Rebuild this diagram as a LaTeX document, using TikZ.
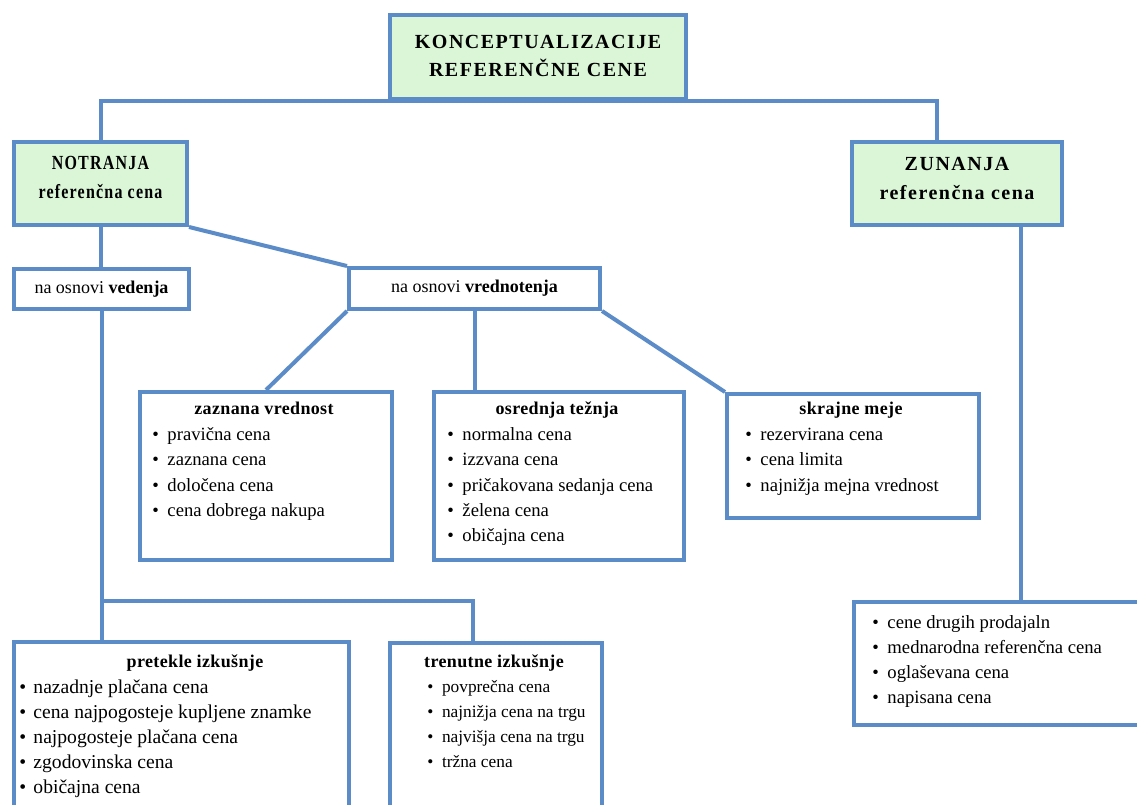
\documentclass[tikz,border=0pt]{standalone}
\usepackage{fontspec}
\setmainfont{Liberation Serif}
\newfontfamily\hdfont{Liberation Serif}[LetterSpace=7.5]
\newfontfamily\shfont{Liberation Serif}[LetterSpace=2]
\usetikzlibrary{calc}
\definecolor{blu}{HTML}{5B8CC8}
\definecolor{grn}{HTML}{DAF6D7}
\begin{document}
\begin{tikzpicture}[x=0.75pt,y=-0.75pt,
 box/.style={draw=blu, fill=white, line width=3pt, rectangle, inner sep=0pt, anchor=north west},
 sz/.style 2 args={minimum width=#1*0.75pt, minimum height=#2*0.75pt},
 conn/.style={draw=blu, line width=3pt},
 itm/.style={inner sep=0pt, anchor=base west, font=\fontsize{14}{18.75}\selectfont},
 hd/.style={inner sep=0pt, anchor=base, font=\shfont\bfseries\fontsize{13.5}{18.75}\selectfont},
 big/.style={inner sep=0pt, font=\hdfont\bfseries\fontsize{15}{21.5}\selectfont, align=center},
 mid/.style={font=\fontsize{13.5}{18.75}\selectfont}]
\useasboundingbox (0,0) rectangle (1137,805);
\clip (0,0) rectangle (1137,805);
\fill[white] (0,0) rectangle (1137,805);

% boxes
\node[box, fill=grn, sz={296}{84}] (top) at (388,13) {};
\node[box, fill=grn, sz={173}{83}] (notr) at (12,140) {};
\node[box, fill=grn, sz={210}{83}] (zun) at (850,140) {};
\node[box, sz={175}{40}, mid] (ved) at (12,267) {na osnovi \textbf{vedenja}};
\node[box, sz={251}{41}, mid] (vred) at (347,266) {na osnovi \textbf{vrednotenja}};
\node[box, sz={252}{168}] (zaz) at (138,390) {};
\node[box, sz={250}{168}] (osr) at (432,390) {};
\node[box, sz={252}{124}] (skr) at (725,392) {};
\node[box, sz={335}{220}] (pre) at (12,640) {};
\node[box, sz={212}{220}] (tre) at (388,641) {};
\node[box, sz={320}{123}] (ext) at (852,600) {};

% headings of the green boxes
\node[big] (top-t) at ($(top.center)+(0,-1)$) {KONCEPTUALIZACIJE\\REFERENČNE CENE};
\node[big] (notr-t) at ($(notr.center)+(0,-6)$) {\scalebox{0.8}[1]{NOTRANJA}\\\scalebox{0.8}[1]{referenčna cena}};
\node[big] (zun-t) at ($(zun.center)+(0,-5)$) {ZUNANJA\\referenčna cena};

% connectors
\draw[conn] (notr.north) |- (top.south) -| ($(zun.north)+(-20,0)$);
\draw[conn] (notr.south) -- (notr.south |- ved.north);
\draw[conn] (notr.south east) -- (vred.north west);
\draw[conn] (vred.south west) -- (zaz.north);
\draw[conn] (vred.south) -- (vred.south |- osr.north);
\draw[conn] (vred.south east) -- (skr.north west);
\coordinate (br) at (473,601);
\draw[conn] (ved.south) -- (ved.south |- pre.north);
\draw[conn] (ved.south |- br) -| (br |- tre.north);
\coordinate (zb) at ($(zun.south)+(64,0)$);
\draw[conn] (zb) -- (zb |- ext.north);

% texts
\node[hd] (zaz-h) at (264,414.5) {zaznana vrednost};
\foreach \t [count=\i from 0] in {pravična cena, zaznana cena, določena cena, cena dobrega nakupa}
  \node[itm] (zaz-\i) at (152,{440.5+\i*25.3}) {\textbullet\hspace{6.5pt}\t};

\node[hd] (osr-h) at (557,414.5) {osrednja težnja};
\foreach \t [count=\i from 0] in {normalna cena, izzvana cena, pričakovana sedanja cena, želena cena, običajna cena}
  \node[itm] (osr-\i) at (447,{440.5+\i*25.3}) {\textbullet\hspace{6.5pt}\t};

\node[hd] (skr-h) at (851,414.5) {skrajne meje};
\foreach \t [count=\i from 0] in {rezervirana cena, cena limita, najnižja mejna vrednost}
  \node[itm] (skr-\i) at (745,{440.5+\i*25.3}) {\textbullet\hspace{6.5pt}\t};

\node[hd] (pre-h) at (195,667) {pretekle izkušnje};
\foreach \t [count=\i from 0] in {nazadnje plačana cena, cena najpogosteje kupljene znamke, najpogosteje plačana cena, zgodovinska cena, običajna cena}
  \node[itm, font=\fontsize{14.7}{18.75}\selectfont] (pre-\i) at (19,{693+\i*25.2}) {\textbullet\hspace{5.5pt}\t};

\node[hd] (tre-h) at (494,667) {trenutne izkušnje};
\foreach \t [count=\i from 0] in {povprečna cena, najnižja cena na trgu, najvišja cena na trgu, tržna cena}
  \node[itm, font=\fontsize{13}{18.75}\selectfont] (tre-\i) at (427,{692+\i*25.3}) {\textbullet\hspace{6.5pt}\t};

\foreach \t [count=\i from 0] in {cene drugih prodajaln, mednarodna referenčna cena, oglaševana cena, napisana cena}
  \node[itm] (ext-\i) at (872,{628+\i*25.3}) {\textbullet\hspace{6.5pt}\t};
\end{tikzpicture}
\end{document}
